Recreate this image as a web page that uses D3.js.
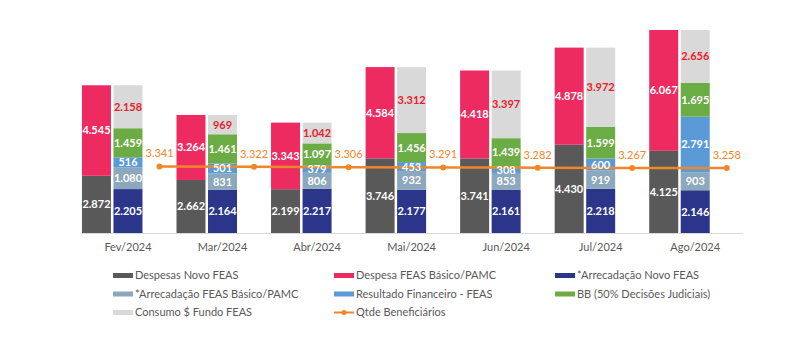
<!DOCTYPE html>
<html>
<head>
<meta charset="utf-8">
<script src="https://cdn.jsdelivr.net/npm/d3@7"></script>
<style>
  body { margin: 0; background: #fff; }
  svg { font-family: Lato, "Open Sans", sans-serif; }
</style>
</head>
<body>
<svg width="805" height="352"></svg>
<script>
const months = ['Fev/2024', 'Mar/2024', 'Abr/2024', 'Mai/2024', 'Jun/2024', 'Jul/2024', 'Ago/2024'];

// barra 1
const despesasNovo = [2872, 2662, 2199, 3746, 3741, 4430, 4125];
const despesaBasico = [4545, 3264, 3343, 4584, 4418, 4878, 6067];
// barra 2
const arrecNovo = [2205, 2164, 2217, 2177, 2161, 2218, 2146];
const arrecBasico = [1080, 831, 806, 932, 853, 919, 903];
const resultadoFin = [516, 501, 379, 453, 308, 600, 2791];
const bbJudiciais = [1459, 1461, 1097, 1456, 1439, 1599, 1695];
const consumoFundo = [2158, 969, 1042, 3312, 3397, 3972, 2656];
// linha
const beneficiarios = [3341, 3322, 3306, 3291, 3282, 3267, 3258];

const svg = d3.select('svg');

const fmt = d3.formatLocale({decimal: ',', thousands: '.', grouping: [3], currency: ['R$', '']}).format(',d');

const series = [
    {name: 'Despesas Novo FEAS', values: despesasNovo, bar: 'a', color: '#595959', text: '#fff'},
    {name: 'Despesa FEAS Básico/PAMC', values: despesaBasico, bar: 'a', color: '#EE2B61', text: '#fff'},
    {name: '*Arrecadação Novo FEAS', values: arrecNovo, bar: 'b', color: '#2B358A', text: '#fff'},
    {name: '*Arrecadação FEAS Básico/PAMC', values: arrecBasico, bar: 'b', color: '#8CA8BC', text: '#fff'},
    {name: 'Resultado Financeiro - FEAS', values: resultadoFin, bar: 'b', color: '#5A9AD6', text: '#fff'},
    {name: 'BB (50% Decisões Judiciais)', values: bbJudiciais, bar: 'b', color: '#6CAC45', text: '#fff'},
    {name: 'Consumo $ Fundo FEAS', values: consumoFundo, bar: 'b', color: '#D9D9D9', text: '#E8202A'}
];
const lineColor = '#F0862A';

const x = d3.scaleBand().domain(months).range([80.7, 742.5]).padding(0);
const sub = d3.scaleBand().domain(['a', 'b', 'l']).range([0, x.bandwidth()])
    .paddingInner(0.08).paddingOuter(0.04);

const totalMax = d3.max(months, (m, i) => despesasNovo[i] + despesaBasico[i]);
const y = d3.scaleLinear().domain([0, totalMax]).range([233, 30]);

// monta os segmentos empilhados
const segments = [];
months.forEach((m, i) => {
    const base = {a: 0, b: 0};
    series.forEach(s => {
        const v = s.values[i];
        segments.push({month: m, bar: s.bar, y0: base[s.bar], y1: base[s.bar] + v, v, s});
        base[s.bar] += v;
    });
});

const g = svg.append('g');

g.selectAll('rect.seg').data(segments)
    .enter().append('rect')
    .attr('class', 'seg')
    .attr('x', d => x(d.month) + sub(d.bar))
    .attr('width', sub.bandwidth())
    .attr('y', d => y(d.y1))
    .attr('height', d => y(d.y0) - y(d.y1))
    .attr('fill', d => d.s.color);

// eixo
const xAxis = d3.axisBottom(x).tickSize(0).tickPadding(10);
const xAxisG = g.append('g')
    .attr('transform', `translate(0, ${y(0)})`)
    .call(xAxis);
xAxisG.select('.domain').attr('stroke', '#D9D9D9').attr('stroke-width', 1);
xAxisG.selectAll('text')
    .attr('fill', '#595959')
    .style('font-size', '11px')
    .style('font-family', 'Lato, sans-serif');

// linha de beneficiários
const lx = (d, i) => x(months[i]) + sub('l') + sub.bandwidth() / 2;
const line = d3.line().x(lx).y(d => y(d));

g.append('path')
    .datum(beneficiarios)
    .attr('d', line)
    .attr('fill', 'none')
    .attr('stroke', lineColor)
    .attr('stroke-width', 2.5);

g.selectAll('circle.pt').data(beneficiarios)
    .enter().append('circle')
    .attr('class', 'pt')
    .attr('cx', lx)
    .attr('cy', d => y(d))
    .attr('r', 3)
    .attr('fill', lineColor);

g.selectAll('text.pt').data(beneficiarios)
    .enter().append('text')
    .attr('class', 'pt')
    .attr('x', lx)
    .attr('y', d => y(d) - 13)
    .attr('dy', '0.36em')
    .attr('text-anchor', 'middle')
    .attr('fill', lineColor)
    .style('font-size', '11px')
    .text(d => fmt(d));

// rótulos das barras (por cima da linha)
g.selectAll('text.seg').data(segments)
    .enter().append('text')
    .attr('class', 'seg')
    .attr('x', d => x(d.month) + sub(d.bar) + sub.bandwidth() / 2)
    .attr('y', d => (y(d.y0) + y(d.y1)) / 2)
    .attr('dy', '0.36em')
    .attr('text-anchor', 'middle')
    .attr('fill', d => d.s.text)
    .style('font-size', '11px')
    .style('font-weight', 'bold')
    .text(d => fmt(d.v));

// legenda
const legendItems = series.map(s => ({name: s.name, color: s.color, type: 'rect'}))
    .concat([{name: 'Qtde Beneficiários', color: lineColor, type: 'line'}]);
const colX = [113, 334, 555];
const rowY = [275.5, 294, 312.5];

const legend = svg.append('g').selectAll('g')
    .data(legendItems)
    .enter().append('g')
    .attr('transform', (d, i) => `translate(${colX[i % 3]}, ${rowY[Math.floor(i / 3)]})`);

legend.filter(d => d.type === 'rect').append('rect')
    .attr('x', 0).attr('y', -2.5)
    .attr('width', 20).attr('height', 5)
    .attr('fill', d => d.color);

const lineLeg = legend.filter(d => d.type === 'line');
lineLeg.append('line')
    .attr('x1', 0).attr('x2', 20)
    .attr('stroke', d => d.color)
    .attr('stroke-width', 2);
lineLeg.append('circle')
    .attr('cx', 10).attr('r', 2.5)
    .attr('fill', d => d.color);

legend.append('text')
    .attr('x', 22)
    .attr('dy', '0.36em')
    .attr('fill', '#595959')
    .style('font-size', '11px')
    .text(d => d.name);
</script>
</body>
</html>
